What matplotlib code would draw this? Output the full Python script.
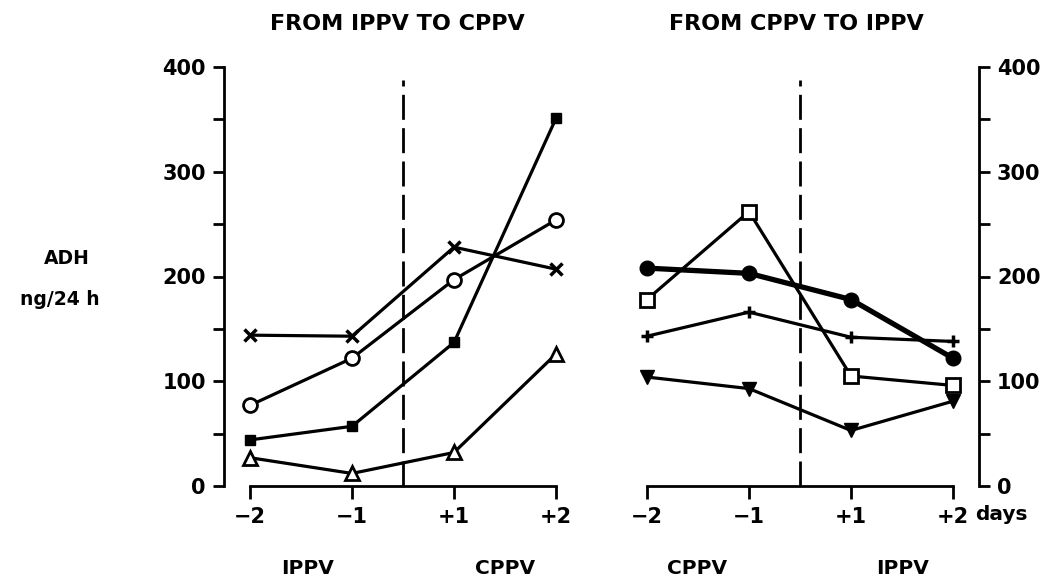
import matplotlib
matplotlib.use("Agg")
import matplotlib.pyplot as plt

days = ["\u22122", "\u22121", "+1", "+2"]
pos = [0, 1, 2, 3]

# from IPPV to CPPV
ippv_cppv_cross = [144, 143, 228, 207]
ippv_cppv_circle = [77, 122, 197, 254]
ippv_cppv_square = [44, 57, 137, 351]
ippv_cppv_triangle = [27, 12, 32, 126]

# from CPPV to IPPV
cppv_ippv_dot = [208, 203, 178, 122]
cppv_ippv_square = [178, 262, 105, 96]
cppv_ippv_plus = [143, 166, 142, 138]
cppv_ippv_triangle = [104, 93, 53, 81]

yticks = [0, 100, 200, 300, 400]
W, H = 1046, 582

plt.rcParams["font.family"] = ["DejaVu Sans"]
plt.rcParams["font.weight"] = "bold"

fig = plt.figure(figsize=(W / 100, H / 100), dpi=100)


def px(x, y):
    return x / W, 1 - y / H


def style_axes(ax, side):
    ax.set_ylim(0, 400)
    for s in ["top", "left", "right", "bottom"]:
        ax.spines[s].set_visible(False)
    ax.spines["bottom"].set_visible(True)
    ax.spines["bottom"].set_bounds(0, 3)
    ax.spines["bottom"].set_linewidth(2)
    ax.spines[side].set_visible(True)
    ax.spines[side].set_bounds(0, 400)
    ax.spines[side].set_linewidth(2)
    ax.set_xticks(pos)
    ax.set_xticklabels(days)
    ax.set_yticks(yticks)
    ax.set_yticks(range(50, 400, 100), minor=True)
    ax.tick_params(axis="x", direction="out", length=9, width=2, pad=6, labelsize=15)
    ax.tick_params(axis="y", which="both", direction="out", length=8, width=2, pad=5, labelsize=15)
    ax.tick_params(axis="y", which="minor", labelsize=0)
    if side == "right":
        ax.yaxis.tick_right()
        ax.yaxis.set_label_position("right")
        ax.tick_params(axis="y", which="both", left=False, right=True)
    ax.plot([1.5, 1.5], [0, 388], color="black", lw=2, dashes=(9, 3))


kw = dict(color="black", lw=2.3, clip_on=False, zorder=3)

ax1 = fig.add_axes([224 / W, 1 - 486 / H, 332 / W, 419 / H])
ax1.set_xlim(-0.255, 3)
style_axes(ax1, "left")
ax1.plot(pos, ippv_cppv_cross, marker="x", ms=8.5, mew=2.5, **kw)
ax1.plot(pos, ippv_cppv_circle, marker="o", ms=10, mfc="white", mew=2, **kw)
ax1.plot(pos, ippv_cppv_square, marker="s", ms=7, mfc="black", **kw)
ax1.plot(pos, ippv_cppv_triangle, marker="^", ms=10.5, mfc="white", mew=2, **kw)

ax2 = fig.add_axes([647 / W, 1 - 486 / H, 332 / W, 419 / H])
ax2.set_xlim(0, 3.255)
style_axes(ax2, "right")
ax2.plot(pos, cppv_ippv_dot, marker="o", ms=10.5, mfc="black", color="black", lw=3.8, clip_on=False, zorder=3)
ax2.plot(pos, cppv_ippv_square, marker="s", ms=9.5, mfc="white", mew=2, **kw)
ax2.plot(pos, cppv_ippv_plus, marker="+", ms=9, mew=2.5, **kw)
ax2.plot(pos, cppv_ippv_triangle, marker="v", ms=10.5, mfc="black", **kw)

title_font = dict(fontsize=16, fontweight="bold", ha="center", va="center")
fig.text(*px(397, 24), "FROM IPPV TO CPPV", **title_font)
fig.text(*px(796, 24), "FROM CPPV TO IPPV", **title_font)

lab_font = dict(fontsize=13.5, fontweight="bold", ha="center", va="center")
fig.text(*px(67, 259), "ADH", **lab_font)
fig.text(*px(60, 300), "ng/24 h", **lab_font)
fig.text(*px(1001, 514), "days", fontsize=14.5, fontweight="bold", ha="center", va="center")

phase_font = dict(fontsize=14.5, fontweight="bold", ha="center", va="center")
fig.text(*px(308, 568), "IPPV", **phase_font)
fig.text(*px(505, 568), "CPPV", **phase_font)
fig.text(*px(697, 568), "CPPV", **phase_font)
fig.text(*px(903, 568), "IPPV", **phase_font)

fig.savefig("out.png", dpi=100)
